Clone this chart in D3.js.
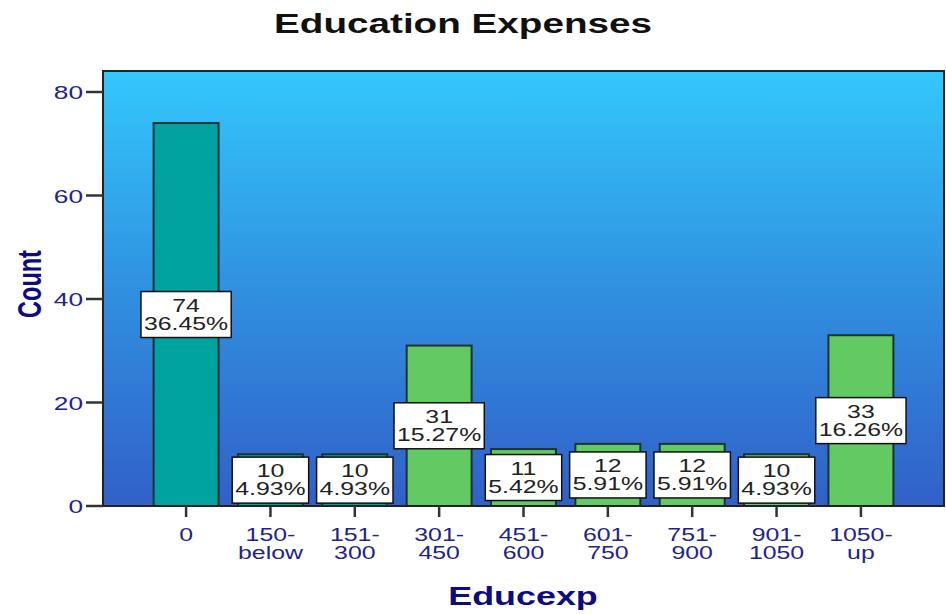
<!DOCTYPE html>
<html lang="en">
<head>
<meta charset="UTF-8" />
<title>Education Expenses</title>
<script src="https://cdn.jsdelivr.net/npm/d3@7/dist/d3.min.js"></script>
<style>
  body { margin: 0; background: #fff; }
  text { font-family: "Liberation Sans", Arial, sans-serif; }
</style>
</head>
<body>
<script>
// data
var categories = ["0", "150-below", "151-300", "301-450", "451-600", "601-750", "751-900", "901-1050", "1050-up"];
var tickLines = [["0"], ["150-", "below"], ["151-", "300"], ["301-", "450"], ["451-", "600"], ["601-", "750"], ["751-", "900"], ["901-", "1050"], ["1050-", "up"]];
var counts = [74, 10, 10, 31, 11, 12, 12, 10, 33];
var percents = ["36.45%", "4.93%", "4.93%", "15.27%", "5.42%", "5.91%", "5.91%", "4.93%", "16.26%"];
var yTicks = [0, 20, 40, 60, 80];

var w = 946, h = 614;
var pLeft = 103, pRight = 944, pTop = 71, pBottom = 506;
var sx = 1.38; // the original text is stretched sideways

var svg = d3.select("body").append("svg").attr("width", w).attr("height", h);

var grad = svg.append("defs").append("linearGradient")
  .attr("id", "bg").attr("x1", 0).attr("y1", 0).attr("x2", 0).attr("y2", 1);
grad.append("stop").attr("offset", "0%").attr("stop-color", "#33c8fc");
grad.append("stop").attr("offset", "50%").attr("stop-color", "#3090e0");
grad.append("stop").attr("offset", "100%").attr("stop-color", "#3160c8");

var x = d3.scaleBand().domain(categories).range([pLeft, pRight]).paddingInner(0.23).paddingOuter(0.6);
var y = d3.scaleLinear().domain([0, 80]).range([pBottom, 92]);

svg.append("rect")
  .attr("x", pLeft).attr("y", pTop)
  .attr("width", pRight - pLeft).attr("height", pBottom - pTop)
  .attr("fill", "url(#bg)");

function stretched(sel, px, py) {
  return sel.attr("transform", "translate(" + px + "," + py + ") scale(" + sx + ",1)");
}

// bars
svg.selectAll("rect.bar")
  .data(counts)
  .enter()
  .append("rect")
  .attr("class", "bar")
  .attr("x", function(d, i) { return x(categories[i]); })
  .attr("y", function(d) { return y(d); })
  .attr("width", x.bandwidth())
  .attr("height", function(d) { return y(0) - y(d); })
  .attr("fill", function(d, i) { return i < 3 ? "#00a3a0" : "#63c963"; })
  .attr("stroke", "#1e3232")
  .attr("stroke-width", 2);

// frame
svg.append("rect")
  .attr("x", pLeft).attr("y", pTop)
  .attr("width", pRight - pLeft).attr("height", pBottom - pTop)
  .attr("fill", "none").attr("stroke", "#222").attr("stroke-width", 2);

// value labels (count + percent in one text)
counts.forEach(function(d, i) {
  var cx = x(categories[i]) + x.bandwidth() / 2;
  var cy = y(d / 2);
  var g = svg.append("g");
  var box = g.append("rect").attr("fill", "#fff").attr("stroke", "#111").attr("stroke-width", 1.5);
  var t = g.append("text").attr("text-anchor", "middle").attr("font-size", 18).attr("fill", "#222");
  t.append("tspan").attr("x", 0).attr("y", 0).text(d);
  var t2 = t.append("tspan").attr("x", 0).attr("y", 18).text(percents[i]);
  stretched(t, cx, cy - 3);
  var bw = t2.node().getComputedTextLength() * sx + 6;
  box.attr("x", cx - bw / 2).attr("y", cy - 23).attr("width", bw).attr("height", 46);
});

// y axis
var yAxis = svg.append("g").attr("class", "y-axis");
yTicks.forEach(function(t) {
  yAxis.append("line").attr("x1", pLeft - 17).attr("x2", pLeft).attr("y1", y(t)).attr("y2", y(t))
    .attr("stroke", "#333").attr("stroke-width", 2.5);
  stretched(yAxis.append("text").attr("text-anchor", "end").attr("font-size", 19).attr("fill", "#22228c").text(t),
    pLeft - 20, y(t) + 7);
});

// x axis
var xAxis = svg.append("g").attr("class", "x-axis");
categories.forEach(function(c, i) {
  var cx = x(c) + x.bandwidth() / 2;
  xAxis.append("line").attr("x1", cx).attr("x2", cx).attr("y1", pBottom).attr("y2", pBottom + 11)
    .attr("stroke", "#333").attr("stroke-width", 2.5);
  var t = xAxis.append("text").attr("text-anchor", "middle").attr("font-size", 18).attr("fill", "#22228c");
  tickLines[i].forEach(function(s, k) {
    t.append("tspan").attr("x", 0).attr("y", k * 18.5).text(s);
  });
  stretched(t, cx, 541);
});

// titles
stretched(svg.append("text").attr("text-anchor", "middle").attr("font-size", 28).attr("font-weight", "bold")
  .attr("fill", "#111").text("Education Expenses"), 463, 33);
stretched(svg.append("text").attr("text-anchor", "middle").attr("font-size", 26).attr("font-weight", "bold")
  .attr("fill", "#0c0c80").text("Educexp"), 523, 605);
svg.append("text").attr("text-anchor", "middle").attr("font-size", 23.5).attr("font-weight", "bold")
  .attr("fill", "#0c0c80").text("Count")
  .attr("transform", "translate(41,284) rotate(-90) scale(1," + sx + ")");
</script>
</body>
</html>
